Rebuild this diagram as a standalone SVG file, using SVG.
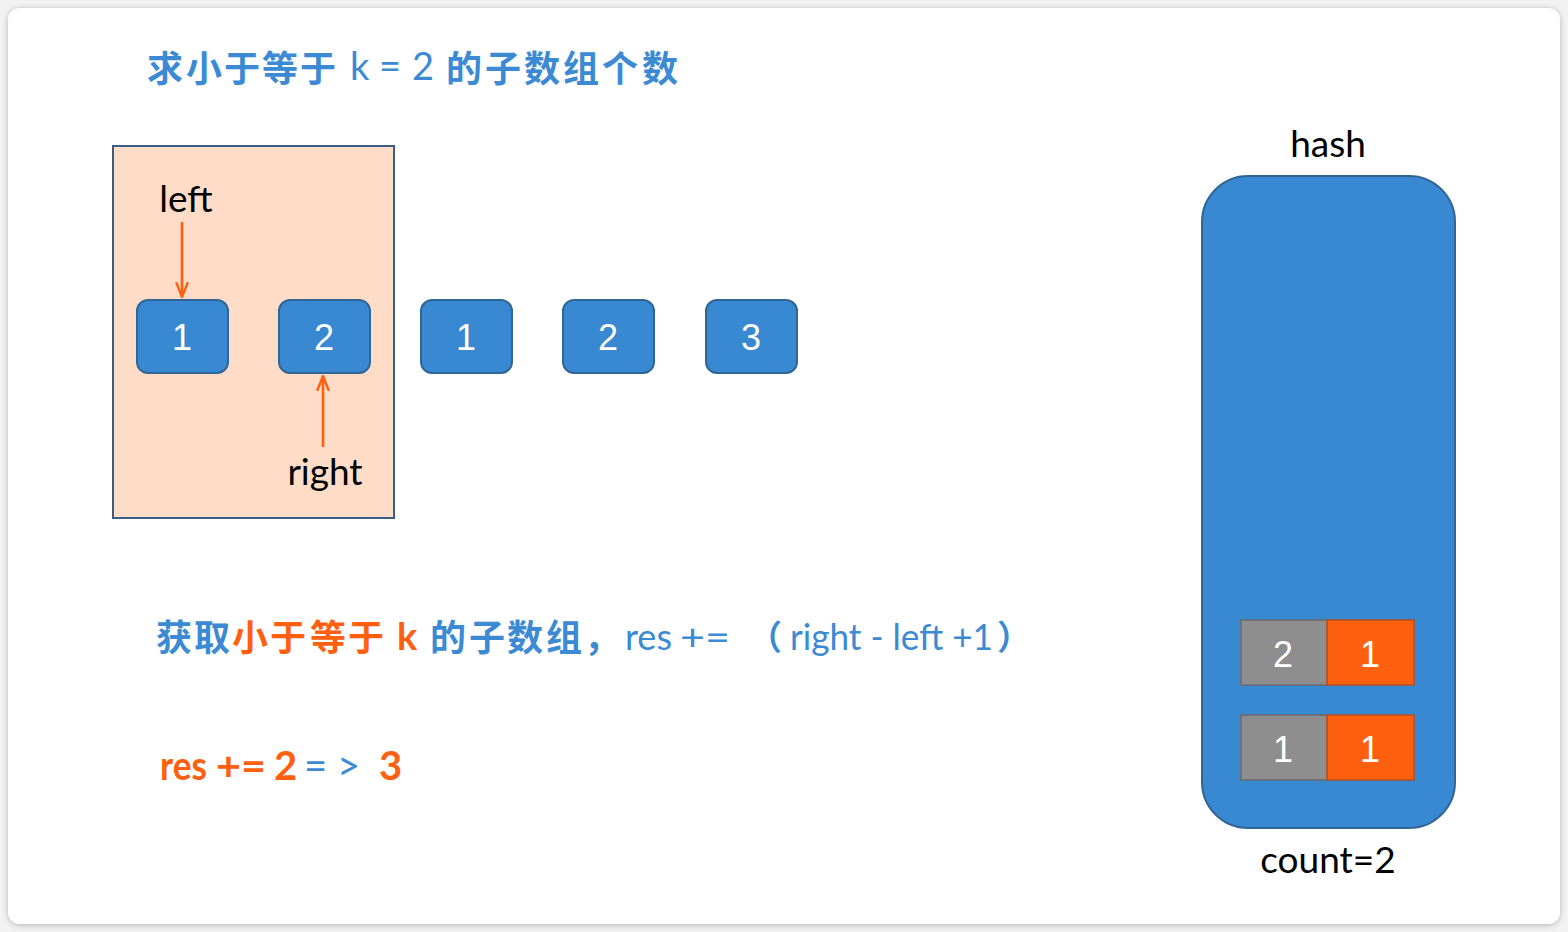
<svg xmlns="http://www.w3.org/2000/svg" width="1568" height="932" viewBox="0 0 1568 932">
<defs>
<filter id="sh" x="-5%" y="-5%" width="110%" height="110%">
<feGaussianBlur in="SourceAlpha" stdDeviation="3"/>
<feOffset dx="0" dy="1"/>
<feComponentTransfer><feFuncA type="linear" slope="0.25"/></feComponentTransfer>
<feMerge><feMergeNode/><feMergeNode in="SourceGraphic"/></feMerge>
</filter>
<marker id="ah" viewBox="0 0 16 14" refX="15" refY="7" markerWidth="16" markerHeight="14" markerUnits="userSpaceOnUse" orient="auto">
<path d="M1,1.5 L15,7 L1,12.5" fill="none" stroke="#FF6010" stroke-width="2.4" stroke-linecap="round" stroke-linejoin="round"/>
</marker>
</defs>
<style>
.node{fill:#3889D1;stroke:#2F6696;stroke-width:2}
.num{font-family:"Liberation Sans",Arial,sans-serif;font-size:36px;fill:#fff;text-anchor:middle}
.lbl{font-family:Lato,"Open Sans",sans-serif;font-size:37px;fill:#000;text-anchor:middle}
.cjk{font-family:"Noto Sans CJK SC",sans-serif;font-weight:700}
.blue{fill:#3B8AD3}
.org{fill:#FF6010}
.lat{font-family:Lato,"Open Sans",sans-serif}
.conn{stroke:#FF6010;stroke-width:2.6;fill:none}
</style>
<rect width="1568" height="932" fill="#f2f2f2"/>
<rect x="8" y="8" width="1552" height="916" rx="12" fill="#fff" filter="url(#sh)"/>

<g id="title">
<text class="cjk blue" font-size="36" y="82"><tspan x="147">求</tspan><tspan x="186">小</tspan><tspan x="224">于</tspan><tspan x="262">等</tspan><tspan x="300">于</tspan></text>
<text class="lat blue" font-size="38" y="80"><tspan x="350">k</tspan><tspan x="379">=</tspan><tspan x="412">2</tspan></text>
<text class="cjk blue" font-size="36" y="82"><tspan x="446">的</tspan><tspan x="485">子</tspan><tspan x="524">数</tspan><tspan x="563">组</tspan><tspan x="602">个</tspan><tspan x="642">数</tspan></text>
</g>

<g id="window">
<rect x="113" y="146" width="281" height="372" fill="#FEDCC8" stroke="#3A5C85" stroke-width="2"/>
</g>

<g id="n1"><rect class="node" x="137" y="300" width="91" height="73" rx="11"/><text class="num" x="182" y="350">1</text></g>
<g id="n2"><rect class="node" x="279" y="300" width="91" height="73" rx="11"/><text class="num" x="324" y="350">2</text></g>
<g id="n3"><rect class="node" x="421" y="300" width="91" height="73" rx="11"/><text class="num" x="466" y="350">1</text></g>
<g id="n4"><rect class="node" x="563" y="300" width="91" height="73" rx="11"/><text class="num" x="608" y="350">2</text></g>
<g id="n5"><rect class="node" x="706" y="300" width="91" height="73" rx="11"/><text class="num" x="751" y="350">3</text></g>

<g id="left-label"><text class="lbl" x="186" y="212">left</text></g>
<g id="right-label"><text class="lbl" x="325" y="485">right</text></g>

<g id="connectors">
<line class="conn" x1="182" y1="222" x2="182" y2="297" marker-end="url(#ah)"/>
<line class="conn" x1="323" y1="447" x2="323" y2="376" marker-end="url(#ah)"/>
</g>

<g id="hash">
<text class="lbl" x="1328" y="157" font-size="38">hash</text>
<rect x="1202" y="176" width="253" height="652" rx="46" fill="#3889D1" stroke="#2F6696" stroke-width="2"/>
<g id="row1">
<rect x="1241" y="620" width="86" height="65" fill="#8E8E8E" stroke="#6B6B6B" stroke-width="1.5"/>
<rect x="1327" y="620" width="87" height="65" fill="#FF6010" stroke="#B4501E" stroke-width="1.5"/>
<text class="num" x="1283" y="667">2</text>
<text class="num" x="1370" y="667">1</text>
</g>
<g id="row2">
<rect x="1241" y="715" width="86" height="65" fill="#8E8E8E" stroke="#6B6B6B" stroke-width="1.5"/>
<rect x="1327" y="715" width="87" height="65" fill="#FF6010" stroke="#B4501E" stroke-width="1.5"/>
<text class="num" x="1283" y="762">1</text>
<text class="num" x="1370" y="762">1</text>
</g>
<text class="lbl" x="1328" y="873" font-size="36">count=2</text>
</g>

<g id="formula">
<text class="cjk" font-size="36" y="651"><tspan class="blue" x="156">获</tspan><tspan class="blue" x="194">取</tspan><tspan class="org" x="232">小</tspan><tspan class="org" x="270">于</tspan><tspan class="org" x="310">等</tspan><tspan class="org" x="348">于</tspan></text>
<text class="lat org" font-size="38" font-weight="700" x="397" y="650">k</text>
<text class="cjk blue" font-size="36" y="651"><tspan x="430">的</tspan><tspan x="469">子</tspan><tspan x="507">数</tspan><tspan x="546">组</tspan><tspan x="584">，</tspan></text>
<text class="lat blue" font-size="37" y="650"><tspan x="625" textLength="47" lengthAdjust="spacingAndGlyphs">res</tspan><tspan x="680" textLength="50" lengthAdjust="spacingAndGlyphs">+=</tspan></text>
<text class="cjk blue" font-size="34" font-weight="400" x="748" y="650">（</text>
<text class="lat blue" font-size="36" y="650" x="790" textLength="203" lengthAdjust="spacingAndGlyphs">right - left +1</text>
<text class="cjk blue" font-size="34" font-weight="400" x="997" y="650">）</text>
</g>

<g id="result">
<text class="lat org" font-size="40" font-weight="700" y="780"><tspan x="160" textLength="47" lengthAdjust="spacingAndGlyphs">res</tspan><tspan x="216" textLength="50" lengthAdjust="spacingAndGlyphs">+=</tspan><tspan x="274">2</tspan></text>
<text class="lat blue" font-size="40" y="780"><tspan x="304">=</tspan><tspan x="337">&gt;</tspan></text>
<text class="lat org" font-size="40" font-weight="700" x="379" y="780">3</text>
</g>
</svg>
